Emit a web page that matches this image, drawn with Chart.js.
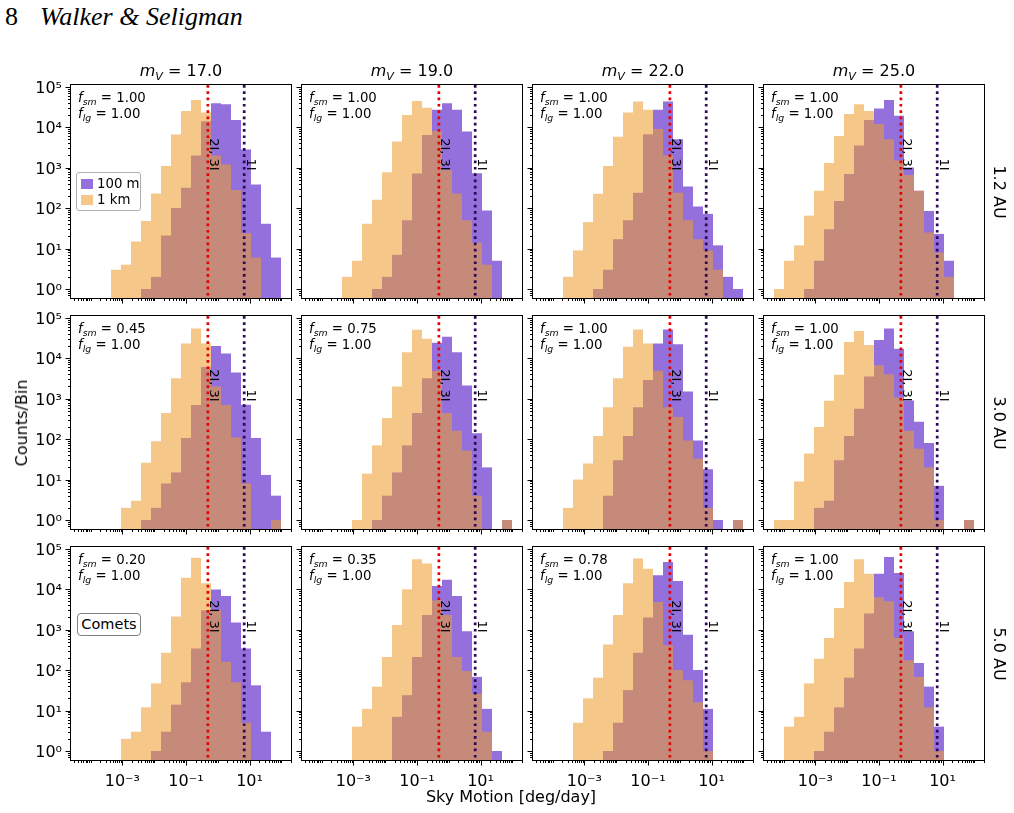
<!DOCTYPE html>
<html>
<head>
<meta charset="utf-8">
<script src="https://cdn.jsdelivr.net/npm/chart.js@4.4.1/dist/chart.umd.min.js"></script>
<style>
  html, body { margin: 0; padding: 0; background: #fff; }
  #fig { position: relative; width: 1014px; height: 813px; overflow: hidden;
         font-family: "DejaVu Sans", sans-serif; color: #000; }
  #fig canvas { position: absolute; }
  .t { position: absolute; white-space: nowrap; line-height: 1; }
  .it { font-style: italic; }
  .sub { font-size: 70%; position: relative; top: 0.32em; font-style: italic; }
  .box { position: absolute; background: #fff; box-sizing: border-box; white-space: nowrap; }
  .sw { display: inline-block; width: 12px; height: 10px; margin-right: 4px; vertical-align: -1px; }
</style>
</head>
<body>
<div id="fig">
  <div class="t" style="left:5px;top:4px;font-family:'Liberation Serif';font-size:26px">8</div>
  <div class="t" style="left:40px;top:4px;font-family:'Liberation Serif';font-size:26px;font-style:italic">Walker &amp; Seligman</div>
</div>
<script>
// histogram bins (deg/day), shared by all panels
const BIN_EDGES = [5.012e-5, 1.034e-4, 2.133e-4, 4.399e-4, 9.078e-4, 1.873e-3, 3.864e-3, 7.969e-3,
  1.644e-2, 3.392e-2, 6.998e-2, 0.1444, 0.2979, 0.6144, 1.268, 2.616, 5.395, 11.13, 22.96, 47.37, 97.72];
const X_MIN = 2.429e-5, X_MAX = 201.6;
const Y_MIN = 0.61, Y_MAX = 1.1e5;

const X_TICK_VALUES = [1e-3, 1e-1, 1e1];
const X_TICK_LABELS = ['10\u207B\u00B3', '10\u207B\u00B9', '10\u00B9'];
const Y_TICK_VALUES = [1, 10, 100, 1e3, 1e4, 1e5];
const Y_TICK_LABELS = ['10\u2070', '10\u00B9', '10\u00B2', '10\u00B3', '10\u2074', '10\u2075'];

const MAGNITUDES = [17.0, 19.0, 22.0, 25.0];
const DISTANCES = ['1.2 AU', '3.0 AU', '5.0 AU'];
const F_SM = [[1.00, 1.00, 1.00, 1.00], [0.45, 0.75, 1.00, 1.00], [0.20, 0.35, 0.78, 1.00]];
const F_LG = [[1.00, 1.00, 1.00, 1.00], [1.00, 1.00, 1.00, 1.00], [1.00, 1.00, 1.00, 1.00]];

// sky motion of the known interstellar objects (deg/day)
const MOTION_2I_3I = 0.49;
const MOTION_1I = 6.8;

// counts per bin, 1 km objects
const N1KM_12AU_M17 = [0,0,0,3,4,15,48,230,1100,6600,25000,47000,23000,2000,1200,280,24,6,0,0];
const N1KM_12AU_M19 = [0,0,0,2,5,41,160,770,4400,20000,44000,30000,8000,870,230,50,14,4,0,0];
const N1KM_12AU_M22 = [0,0,2,9,45,225,1100,5800,23000,43000,27000,9000,2000,240,50,17,9,3,0,0];
const N1KM_12AU_M25 = [1,5,12,65,270,1300,6000,21000,37000,25000,12000,5000,1500,660,270,25,8,2,0,0];
const N1KM_30AU_M17 = [0,0,0,0,2,3,26,88,440,3200,23000,54000,23000,2000,700,110,8,0,0,1];
const N1KM_30AU_M19 = [0,0,0,0,1,14,70,330,2000,14000,50000,30000,4900,440,160,52,4,0,0,1];
const N1KM_30AU_M22 = [0,0,2,10,25,120,610,3200,19000,51000,23000,4900,610,350,92,33,2,0,0,1];
const N1KM_30AU_M25 = [1,1,9,44,200,890,3900,25000,47000,21000,6700,4000,1070,160,58,20,1,0,0,1];
const N1KM_50AU_M17 = [0,0,0,0,2,3,12,47,270,2100,19000,60000,14000,3000,160,50,5,0,0,0];
const N1KM_50AU_M19 = [0,0,0,0,4,11,39,210,1300,10000,55000,43000,5300,2300,210,95,26,3,0,0];
const N1KM_50AU_M22 = [0,0,0,5,20,65,430,2300,14000,57000,32000,4800,410,100,56,16,1,0,0,0];
const N1KM_50AU_M25 = [0,4,7,47,190,620,3400,15000,55000,24000,6300,5000,620,175,68,12,1,0,0,0];

// counts per bin, 100 m objects
const N100M_12AU_M17 = [0,0,0,0,0,0,1,2,21,100,320,2000,14000,39000,37000,15000,2800,380,41,6];
const N100M_12AU_M19 = [0,0,0,0,0,0,1,2,7,50,720,6400,27000,39000,27000,7800,730,87,5,0];
const N100M_12AU_M22 = [0,0,0,0,0,1,3,17,50,240,6700,27000,43000,5000,340,110,72,12,2,1];
const N100M_12AU_M25 = [0,0,0,1,5,30,150,700,3500,15000,29000,47000,19000,1000,270,85,23,5,0,0];
const N100M_30AU_M17 = [0,0,0,0,0,0,1,2,8,15,106,700,6000,20000,13000,4400,710,106,13,4];
const N100M_30AU_M19 = [0,0,0,0,0,0,1,4,15,70,440,3200,24000,34000,14000,2100,140,20,0,1];
const N100M_30AU_M22 = [0,0,0,0,0,0,4,30,120,610,2900,23000,51000,22000,1500,92,18,1,0,1];
const N100M_30AU_M25 = [0,0,0,0,2,3,30,120,560,3500,28000,54000,17000,900,270,80,7,0,0,1];
const N100M_50AU_M17 = [0,0,0,0,0,0,0,1,3,14,50,340,3000,9800,6800,1500,340,42,3,0];
const N100M_50AU_M19 = [0,0,0,0,0,0,0,0,7,24,210,2300,12000,17000,6800,910,68,11,1,0];
const N100M_50AU_M22 = [0,0,0,0,0,0,1,5,32,270,2000,22000,47000,16000,750,100,11,0,0,0];
const N100M_50AU_M25 = [0,0,0,0,1,3,12,65,340,2500,24000,62000,25000,910,150,39,4,0,0,0];

const COUNTS_1KM = [
  [N1KM_12AU_M17, N1KM_12AU_M19, N1KM_12AU_M22, N1KM_12AU_M25],
  [N1KM_30AU_M17, N1KM_30AU_M19, N1KM_30AU_M22, N1KM_30AU_M25],
  [N1KM_50AU_M17, N1KM_50AU_M19, N1KM_50AU_M22, N1KM_50AU_M25]];
const COUNTS_100M = [
  [N100M_12AU_M17, N100M_12AU_M19, N100M_12AU_M22, N100M_12AU_M25],
  [N100M_30AU_M17, N100M_30AU_M19, N100M_30AU_M22, N100M_30AU_M25],
  [N100M_50AU_M17, N100M_50AU_M19, N100M_50AU_M22, N100M_50AU_M25]];

// layout
const PL = [71, 302, 533, 764], PT = [85, 316, 547], PW = 220, PH = 213;
const PAD_L = 50, PAD_R = 4, PAD_T = 4, PAD_B = 36;
const BIN_PX = 10;
const PURPLE = 'rgb(147,112,219)';
const ORANGE = 'rgba(237,158,50,0.57)';
const RED = 'rgb(230,0,0)';
const INDIGO = 'rgb(45,8,85)';

Chart.defaults.font.family = 'DejaVu Sans';
Chart.defaults.color = '#000';

const fig = document.getElementById('fig');
function addText(html, x, y, style) {
  const d = document.createElement('div');
  d.className = 't';
  d.style.left = x + 'px';
  d.style.top = y + 'px';
  if (style) d.style.cssText += style;
  d.innerHTML = html;
  fig.appendChild(d);
  return d;
}

// keep the plot area fixed: no extra room for overhanging labels
function fixBox(s, key, size) {
  s[key] = size;
  s.paddingTop = 0; s.paddingBottom = 0; s.paddingLeft = 0; s.paddingRight = 0;
}

// tick marks, frame, reference lines and their labels
const decor = {
  id: 'decor',
  afterDatasetsDraw(chart, args, o) {
    const {ctx, chartArea: a, scales: {x, y}} = chart;
    ctx.save();
    ctx.beginPath();
    ctx.rect(a.left, a.top, a.width, a.height);
    ctx.clip();
    ctx.lineWidth = 2.7;
    ctx.setLineDash([2.7, 3.6]);
    o.lines.forEach(l => {
      const px = x.getPixelForValue(l.value);
      ctx.strokeStyle = l.color;
      ctx.beginPath();
      ctx.moveTo(px, a.top);
      ctx.lineTo(px, a.bottom);
      ctx.stroke();
    });
    ctx.restore();

    ctx.save();
    ctx.fillStyle = '#000';
    ctx.font = '13px "DejaVu Sans"';
    ctx.textAlign = 'right';
    ctx.textBaseline = 'alphabetic';
    o.lines.forEach(l => {
      const px = x.getPixelForValue(l.value);
      ctx.save();
      ctx.translate(px + 2.5, y.getPixelForValue(1000) + 3);
      ctx.rotate(Math.PI / 2);
      ctx.fillText(l.label, 0, 0);
      ctx.restore();
    });
    ctx.restore();
  },
  afterDraw(chart) {
    const {ctx, chartArea: a, scales: {x, y}} = chart;
    ctx.save();
    ctx.strokeStyle = '#000';
    ctx.lineWidth = 1;
    ctx.strokeRect(a.left - 0.5, a.top - 0.5, a.width + 1, a.height + 1);
    ctx.beginPath();
    for (let d = -5; d <= 2; d++) {
      for (let m = 1; m <= 9; m++) {
        const v = m * Math.pow(10, d);
        if (v < X_MIN || v > X_MAX) continue;
        const big = m === 1 && X_TICK_VALUES.some(t => Math.abs(t - v) / v < 1e-6);
        const px = Math.round(x.getPixelForValue(v)) + 0.5;
        ctx.moveTo(px, a.bottom);
        ctx.lineTo(px, a.bottom + (big ? 5.5 : 3));
      }
    }
    for (let d = -1; d <= 5; d++) {
      for (let m = 1; m <= 9; m++) {
        const v = m * Math.pow(10, d);
        if (v < Y_MIN || v > Y_MAX) continue;
        const py = Math.round(y.getPixelForValue(v)) + 0.5;
        ctx.moveTo(a.left, py);
        ctx.lineTo(a.left - (m === 1 ? 5.5 : 3), py);
      }
    }
    ctx.stroke();
    ctx.restore();
  }
};

function binPoints(counts) {
  return counts
    .map((n, k) => ({x: Math.sqrt(BIN_EDGES[k] * BIN_EDGES[k + 1]), y: n}))
    .filter(p => p.y > 0);
}

function makePanel(r, c) {
  const cv = document.createElement('canvas');
  const w = PAD_L + PW + PAD_R, h = PAD_T + PH + PAD_B;
  cv.width = w;
  cv.height = h;
  cv.style.left = (PL[c] - PAD_L) + 'px';
  cv.style.top = (PT[r] - PAD_T) + 'px';
  cv.style.width = w + 'px';
  cv.style.height = h + 'px';
  fig.appendChild(cv);

  new Chart(cv, {
    type: 'bar',
    data: {
      datasets: [
        { label: '1 km', data: binPoints(COUNTS_1KM[r][c]), backgroundColor: ORANGE,
          grouped: false, barThickness: BIN_PX, borderWidth: 0, inflateAmount: 0 },
        { label: '100 m', data: binPoints(COUNTS_100M[r][c]), backgroundColor: PURPLE,
          grouped: false, barThickness: BIN_PX, borderWidth: 0, inflateAmount: 0 }
      ]
    },
    options: {
      responsive: false,
      animation: false,
      events: [],
      layout: { padding: { left: 0, top: PAD_T, right: PAD_R, bottom: 0 } },
      plugins: {
        legend: { display: false },
        tooltip: { enabled: false },
        decor: { lines: [
          { value: MOTION_2I_3I, color: RED, label: '2I, 3I' },
          { value: MOTION_1I, color: INDIGO, label: '1I' }
        ] }
      },
      scales: {
        x: {
          type: 'logarithmic', min: X_MIN, max: X_MAX, offset: false,
          grid: { display: false, drawTicks: false }, border: { display: false },
          afterBuildTicks: s => { s.ticks = X_TICK_VALUES.map(v => ({ value: v })); },
          afterFit: s => fixBox(s, 'height', PAD_B),
          ticks: { display: r === 2, autoSkip: false, maxRotation: 0, minRotation: 0, padding: 12,
                   font: { size: 16 }, callback: (v, i) => X_TICK_LABELS[i] }
        },
        y: {
          type: 'logarithmic', min: Y_MIN, max: Y_MAX,
          grid: { display: false, drawTicks: false }, border: { display: false },
          afterBuildTicks: s => { s.ticks = Y_TICK_VALUES.map(v => ({ value: v })); },
          afterFit: s => fixBox(s, 'width', PAD_L),
          ticks: { display: c === 0, autoSkip: false, padding: 9, labelOffset: 2,
                   font: { size: 16 }, callback: (v, i) => Y_TICK_LABELS[i] }
        }
      }
    },
    plugins: [decor]
  });

  addText('<span class="it">f</span><span class="sub">sm</span> = ' + F_SM[r][c].toFixed(2) +
          '<br><span class="it">f</span><span class="sub">lg</span> = ' + F_LG[r][c].toFixed(2),
          PL[c] + 7, PT[r] + 5, 'font-size:13.3px;line-height:15px');
}

for (let r = 0; r < 3; r++) {
  for (let c = 0; c < 4; c++) makePanel(r, c);
}

// column titles and row labels
MAGNITUDES.forEach((m, c) => {
  addText('<span class="it">m</span><span class="sub">V</span> = ' + m.toFixed(1),
          PL[c] + PW / 2, 71, 'font-size:16px;transform:translate(-50%,-50%)');
});
DISTANCES.forEach((d, r) => {
  addText(d, 999, PT[r] + PH / 2, 'font-size:16px;transform:translate(-50%,-50%) rotate(90deg)');
});
addText('Counts/Bin', 22, 423, 'font-size:16px;transform:translate(-50%,-50%) rotate(-90deg)');
addText('Sky Motion [deg/day]', 511, 797, 'font-size:16px;transform:translate(-50%,-50%)');

// legend (first panel)
const leg = document.createElement('div');
leg.className = 'box';
leg.style.cssText += 'left:76px;top:172px;width:65px;height:39px;border:1px solid #b0b0b0;border-radius:3px;' +
  'font-size:13.3px;line-height:15.5px;padding:3px 0 0 4px;';
leg.innerHTML = '<div><span class="sw" style="background:' + PURPLE + '"></span>100 m</div>' +
                '<div><span class="sw" style="background:' + ORANGE + '"></span>1 km</div>';
fig.appendChild(leg);

// comet label (bottom-left panel)
const com = document.createElement('div');
com.className = 'box';
com.style.cssText += 'left:77px;top:613px;width:64px;height:23px;border:1px solid #808080;border-radius:4px;' +
  'font-size:14.5px;line-height:21px;text-align:center;';
com.textContent = 'Comets';
fig.appendChild(com);
</script>
</body>
</html>
